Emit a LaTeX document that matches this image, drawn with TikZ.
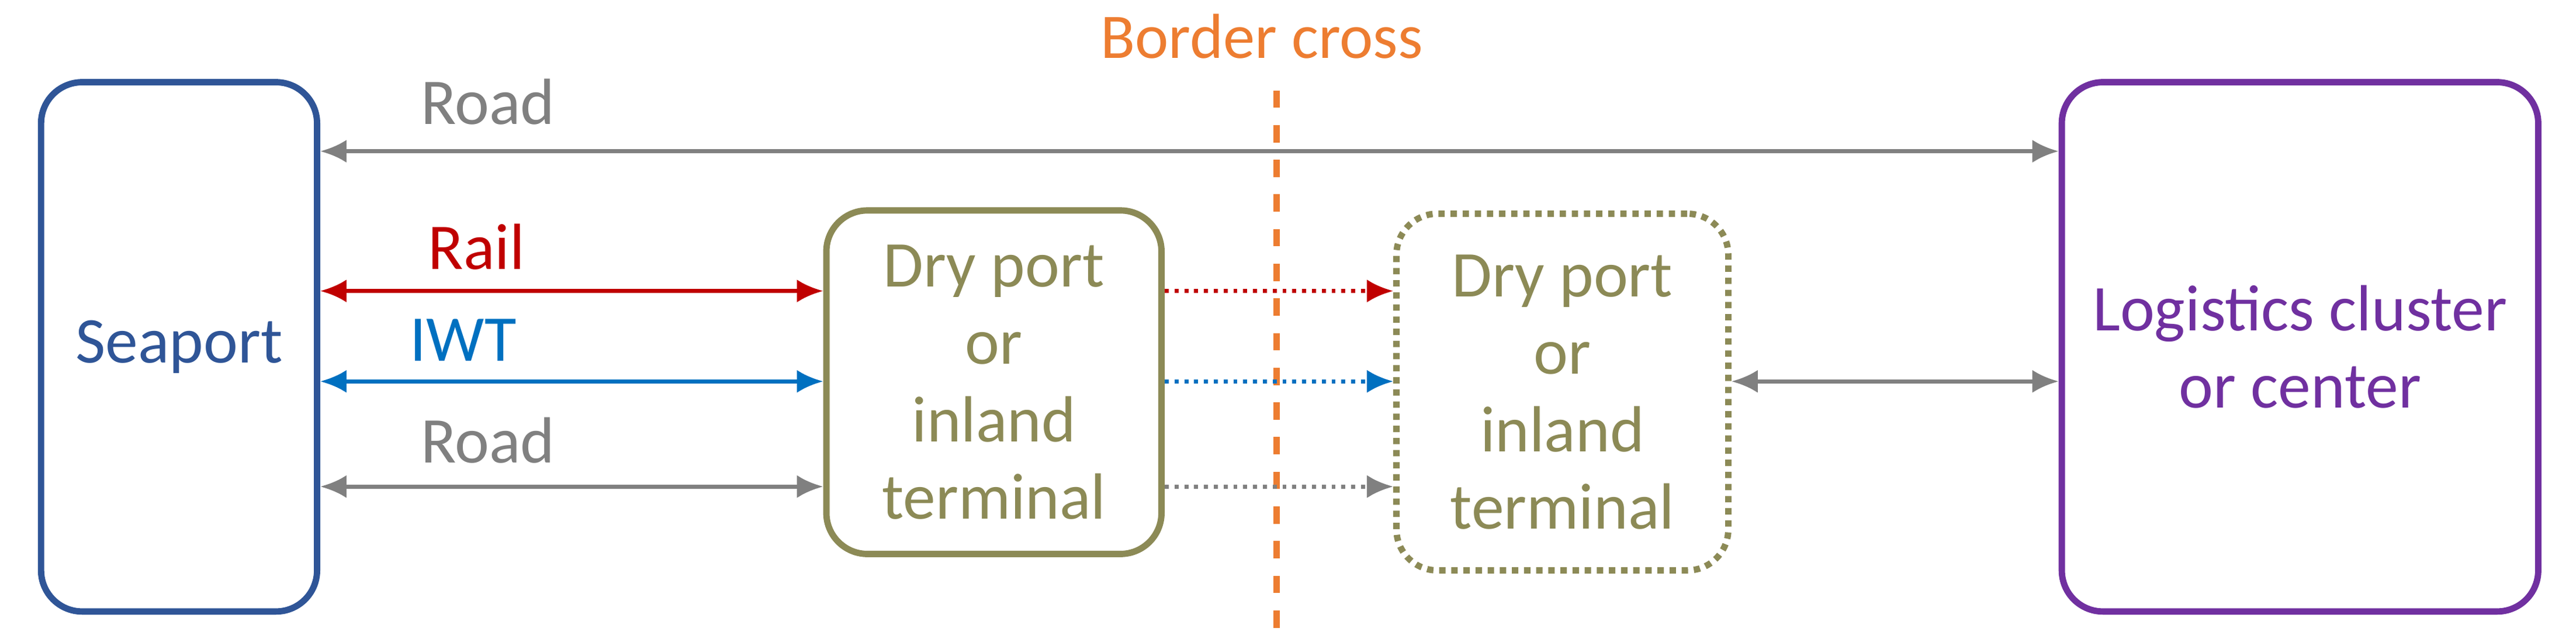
\documentclass[tikz,border=0pt]{standalone}
\usepackage{fontspec}
\setmainfont{Carlito}
\usetikzlibrary{arrows.meta}
\definecolor{seablue}{HTML}{2F5597}
\definecolor{dryolive}{HTML}{8C8A56}
\definecolor{logpurple}{HTML}{7030A0}
\definecolor{railred}{HTML}{C00000}
\definecolor{iwtblue}{HTML}{0070C0}
\definecolor{roadgrey}{HTML}{808080}
\definecolor{borderorange}{HTML}{ED7D31}

\begin{document}
\begin{tikzpicture}[
        font=\fontsize{11.3}{13.4}\selectfont,
        box/.style={draw, line width=1.1pt, rounded corners=0.25cm, align=center, inner sep=0pt},
        link/.style={{Latex[length=1.6mm,width=1.4mm]}-{Latex[length=1.6mm,width=1.4mm]}, line width=0.7pt},
        fwd/.style={-{Latex[length=1.6mm,width=1.4mm]}, line width=0.7pt, densely dotted}
    ]
    \useasboundingbox (0,0) rectangle (15.68,-3.86);
    % boxes
    \node[box, seablue, minimum width=1.68cm, minimum height=3.22cm] (seaport) at (1.09,-2.11) {Seaport};
    \node[box, dryolive, minimum width=2.04cm, minimum height=2.09cm] (dry1) at (6.05,-2.325) {Dry port\\or\\inland\\terminal};
    \node[box, dryolive, densely dotted, minimum width=2.02cm, minimum height=2.17cm] (dry2) at (9.51,-2.385) {Dry port\\or\\inland\\terminal};
    \node[box, logpurple, minimum width=2.9cm, minimum height=3.22cm] (logistics) at (14.0,-2.11) {Logistics cluster\\or center};
    % border
    \coordinate (btop) at (7.77,-0.55);
    \coordinate (bbot) at (7.77,-3.86);
    \draw[borderorange, line width=1.1pt, dashed] (btop) -- (bbot);
    \node[borderorange, font=\fontsize{11}{13}\selectfont] (border) at (7.68,-0.22) {Border cross};
    % road over the top
    \draw[link, roadgrey] (seaport.east |- 0,-0.92) -- (logistics.west |- 0,-0.92);
    \node[roadgrey] (roadtop) at (2.97,-0.62) {Road};
    % seaport to first dry port
    \draw[link, railred] (seaport.east |- 0,-1.77) -- (dry1.west |- 0,-1.77);
    \node[railred] (rail) at (2.9,-1.5) {Rail};
    \draw[link, iwtblue] (seaport.east |- 0,-2.32) -- (dry1.west |- 0,-2.32);
    \node[iwtblue] (iwt) at (2.82,-2.07) {IWT};
    \draw[link, roadgrey] (seaport.east |- 0,-2.96) -- (dry1.west |- 0,-2.96);
    \node[roadgrey] (roadlow) at (2.97,-2.68) {Road};
    % across the border
    \draw[fwd, railred] (dry1.east |- 0,-1.77) -- (dry2.west |- 0,-1.77);
    \draw[fwd, iwtblue] (dry1.east |- 0,-2.32) -- (dry2.west |- 0,-2.32);
    \draw[fwd, roadgrey] (dry1.east |- 0,-2.96) -- (dry2.west |- 0,-2.96);
    \draw[link, roadgrey] (dry2.east |- 0,-2.32) -- (logistics.west |- 0,-2.32);
\end{tikzpicture}
\end{document}
